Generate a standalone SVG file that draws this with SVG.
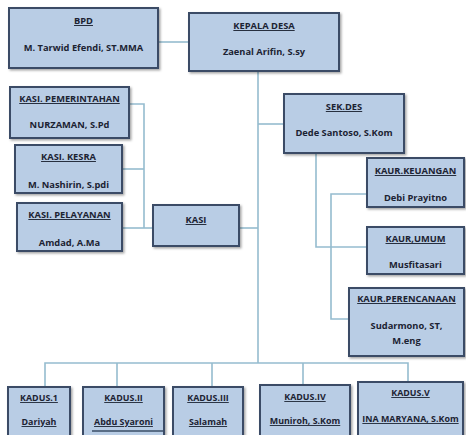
<svg xmlns="http://www.w3.org/2000/svg" width="466" height="435" viewBox="0 0 466 435">
<defs>
<filter id="sh" x="-10%" y="-10%" width="130%" height="140%">
<feDropShadow dx="1.5" dy="1.5" stdDeviation="1" flood-color="#000" flood-opacity="0.35"/>
</filter>
</defs>
<style>
.box{fill:#b9cde5;stroke:#3a4c66;stroke-width:2;filter:url(#sh)}
.t{font-family:"Open Sans","Liberation Sans",sans-serif;font-weight:bold;font-size:9.3px;fill:#1c2333;text-anchor:middle}
.s{font-size:8.9px}
.u{text-decoration:underline}
.c{fill:none;stroke:#95bccf;stroke-width:1.6}
</style>
<rect width="466" height="435" fill="#fff"/>
<g id="connectors">
<path class="c" d="M158 42 H189"/>
<path class="c" d="M258 71 V363"/>
<path class="c" d="M258 124 H284"/>
<path class="c" d="M239 228 H258"/>
<path class="c" d="M122 228 H153"/>
<path class="c" d="M129 104 H144 V228"/>
<path class="c" d="M122 169 H144"/>
<path class="c" d="M316 153 V247 H367"/>
<path class="c" d="M368 194 H331 V319 H349"/>
<path class="c" d="M45 387 V363 H408 V382"/>
<path class="c" d="M117 363 V387"/>
<path class="c" d="M212 363 V387"/>
<path class="c" d="M303 363 V385"/>
</g>
<g id="bpd">
<rect class="box" x="9" y="8" width="149" height="60"/>
<text class="t u" x="83.5" y="24">BPD</text>
<text class="t" x="83.5" y="51">M. Tarwid Efendi, ST.MMA</text>
</g>
<g id="kepala-desa">
<rect class="box" x="189" y="13" width="150" height="58"/>
<text class="t u" x="264" y="29">KEPALA DESA</text>
<text class="t" x="264" y="55">Zaenal Arifin, S.sy</text>
</g>
<g id="kasi-pemerintahan">
<rect class="box" x="10" y="87" width="119" height="51"/>
<text class="t u" x="69.5" y="102">KASI. PEMERINTAHAN</text>
<text class="t" x="69.5" y="128">NURZAMAN, S.Pd</text>
</g>
<g id="kasi-kesra">
<rect class="box" x="15" y="145" width="107" height="48"/>
<text class="t u" x="68.5" y="160">KASI. KESRA</text>
<text class="t" x="68.5" y="188">M. Nashirin, S.pdi</text>
</g>
<g id="kasi-pelayanan">
<rect class="box" x="17" y="203" width="105" height="48"/>
<text class="t u" x="69.5" y="218">KASI. PELAYANAN</text>
<text class="t" x="69.5" y="246">Amdad, A.Ma</text>
</g>
<g id="kasi">
<rect class="box" x="153" y="205" width="86" height="41"/>
<text class="t u" x="196" y="223">KASI</text>
</g>
<g id="sekdes">
<rect class="box" x="284" y="94" width="120" height="59"/>
<text class="t u" x="344" y="110">SEK.DES</text>
<text class="t" x="344" y="136">Dede Santoso, S.Kom</text>
</g>
<g id="kaur-keuangan">
<rect class="box" x="367" y="158" width="97" height="49"/>
<text class="t u" x="415.5" y="174">KAUR.KEUANGAN</text>
<text class="t" x="415.5" y="201">Debi Prayitno</text>
</g>
<g id="kaur-umum">
<rect class="box" x="367" y="227" width="97" height="47"/>
<text class="t u" x="415.5" y="242">KAUR,UMUM</text>
<text class="t" x="415.5" y="268">Musfitasari</text>
</g>
<g id="kaur-perencanaan">
<rect class="box" x="349" y="288" width="115" height="68"/>
<text class="t u" x="406.5" y="302">KAUR.PERENCANAAN</text>
<text class="t" x="406.5" y="329">Sudarmono, ST,</text>
<text class="t" x="406.5" y="344">M.eng</text>
</g>
<g id="kadus-1">
<rect class="box" x="8" y="387" width="62" height="56"/>
<text class="t u s" x="39" y="401">KADUS.1</text>
<text class="t u s" x="39" y="425">Dariyah</text>
</g>
<g id="kadus-2">
<rect class="box" x="83" y="387" width="81" height="56"/>
<text class="t u s" x="123.5" y="401">KADUS.II</text>
<text class="t u s" x="123.5" y="425">Abdu Syaroni</text>
<path d="M92 431 H163" stroke="#3a4c66" stroke-width="1.5" fill="none"/>
</g>
<g id="kadus-3">
<rect class="box" x="173" y="387" width="70" height="56"/>
<text class="t u s" x="208" y="401">KADUS.III</text>
<text class="t u s" x="208" y="425">Salamah</text>
</g>
<g id="kadus-4">
<rect class="box" x="260" y="385" width="90" height="58"/>
<text class="t u s" x="305" y="400">KADUS.IV</text>
<text class="t u s" x="305" y="424">Muniroh, S.Kom</text>
</g>
<g id="kadus-5">
<rect class="box" x="358" y="382" width="105" height="61"/>
<text class="t u s" x="410.5" y="396">KADUS.V</text>
<text class="t u s" x="410.5" y="422">INA MARYANA, S.Kom</text>
</g>
</svg>
